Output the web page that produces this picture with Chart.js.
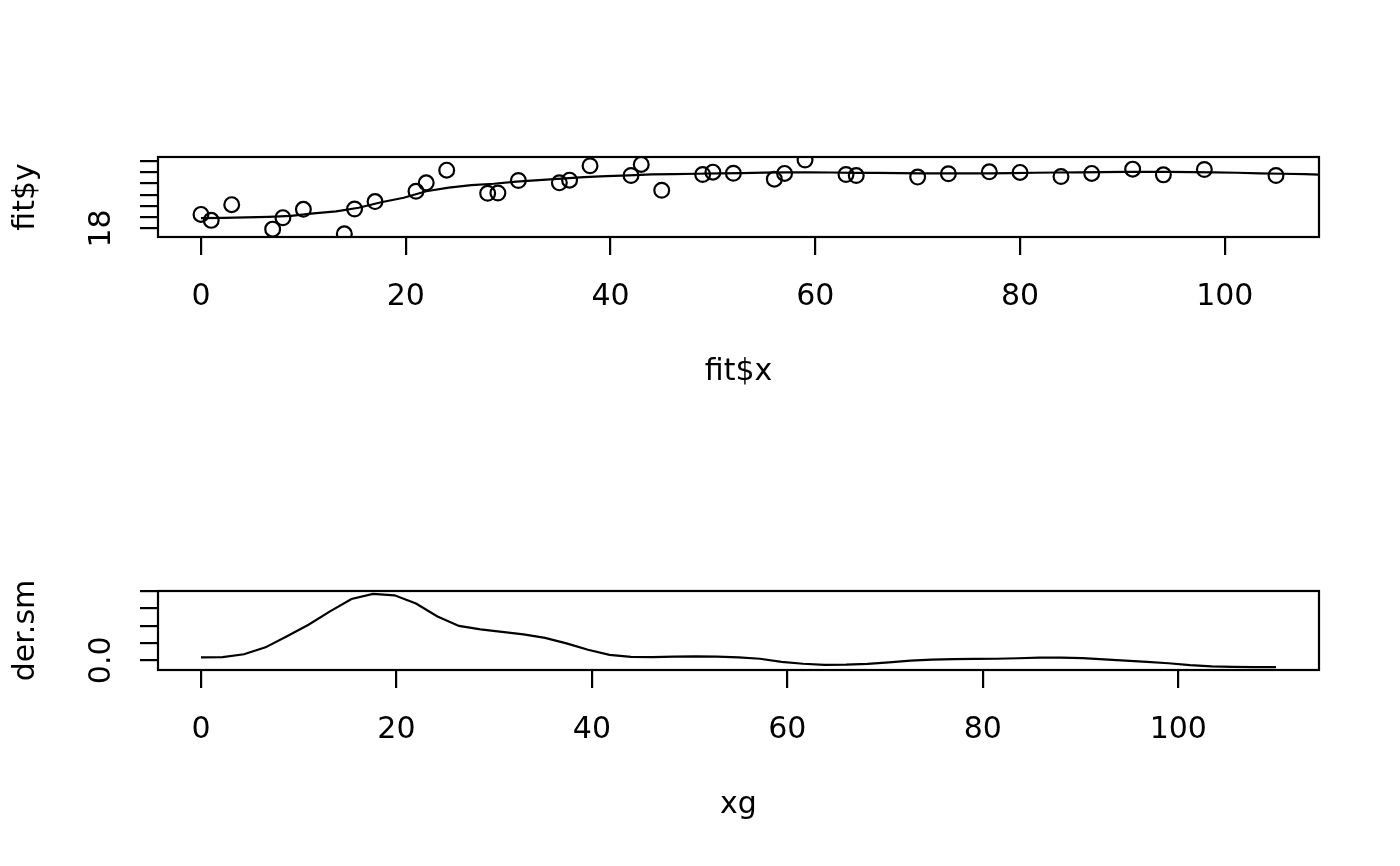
<!DOCTYPE html>
<html>
<head>
<meta charset="utf-8">
<script src="https://cdn.jsdelivr.net/npm/chart.js@4"></script>
<style>
  body { margin: 0; background: #fff; }
  canvas { display: block; }
</style>
</head>
<body>
<canvas id="fitChart" width="1400" height="433"></canvas>
<canvas id="derChart" width="1400" height="433"></canvas>
<script>
// observed points
const fitX = [0, 1, 3, 7, 8, 10, 14, 15, 17, 21, 22, 24, 28, 29, 31, 35, 36, 38, 42, 43, 45,
  49, 50, 52, 56, 57, 59, 63, 64, 70, 73, 77, 80, 84, 87, 91, 94, 98, 105];
const fitY = [19.25, 18.72, 20.12, 17.94, 18.96, 19.70, 17.52, 19.73, 20.39, 21.31, 22.06, 23.19,
  21.13, 21.16, 22.27, 22.06, 22.30, 23.58, 22.72, 23.70, 21.40,
  22.80, 23.01, 22.92, 22.39, 22.90, 24.09, 22.80, 22.72, 22.57, 22.87, 23.04, 22.99, 22.63,
  22.90, 23.28, 22.77, 23.25, 22.72];

// evaluation grid
const xg = [0, 2.2, 4.4, 6.6, 8.8, 11, 13.2, 15.4, 17.6, 19.8, 22, 24.2, 26.4, 28.6, 30.8, 33,
  35.2, 37.4, 39.6, 41.8, 44, 46.2, 48.4, 50.6, 52.8, 55, 57.2, 59.4, 61.6, 63.8, 66, 68.2,
  70.4, 72.6, 74.8, 77, 79.2, 81.4, 83.6, 85.8, 88, 90.2, 92.4, 94.6, 96.8, 99, 101.2, 103.4,
  105.6, 107.8, 110];

// smooth fit on the grid
const fitSm = [18.92, 18.94, 18.98, 19.03, 19.12, 19.34, 19.52, 19.84, 20.33, 20.73, 21.31,
  21.63, 21.85, 21.98, 22.16, 22.30, 22.43, 22.57, 22.66, 22.72, 22.81, 22.83, 22.87, 22.91,
  22.93, 22.97, 22.99, 23.00, 22.98, 22.95, 22.94, 22.92, 22.91, 22.90, 22.90, 22.91, 22.93,
  22.96, 22.98, 23.00, 23.01, 23.03, 23.04, 23.04, 23.02, 23.00, 22.96, 22.91, 22.87, 22.83,
  22.78];

// derivative of the smooth
const derSm = [0.017, 0.019, 0.035, 0.075, 0.139, 0.206, 0.283, 0.355, 0.384, 0.376, 0.329,
  0.254, 0.199, 0.179, 0.165, 0.150, 0.130, 0.098, 0.061, 0.032, 0.020, 0.019, 0.021, 0.023,
  0.021, 0.017, 0.009, -0.009, -0.020, -0.026, -0.025, -0.020, -0.012, -0.002, 0.004, 0.007,
  0.008, 0.009, 0.012, 0.016, 0.016, 0.013, 0.006, -0.002, -0.009, -0.017, -0.028, -0.035,
  -0.038, -0.039, -0.039];

// axis ticks (R drops labels that would overlap)
const fitXTicks = [0, 20, 40, 60, 80, 100];
const fitYTicks = [18, 19, 20, 21, 22, 23, 24];
const fitYLabels = ['18', '', '', '', '', '', ''];
const xgTicks = [0, 20, 40, 60, 80, 100];
const derYTicks = [0, 0.1, 0.2, 0.3, 0.4];
const derYLabels = ['0.0', '', '', '', ''];

Chart.defaults.font.family = 'DejaVu Sans';
Chart.defaults.font.size = 30;
Chart.defaults.color = '#000';

const LW = 2.2;

const boxPlugin = {
  id: 'box',
  afterDraw(chart) {
    const a = chart.chartArea;
    const ctx = chart.ctx;
    ctx.save();
    ctx.strokeStyle = '#000';
    ctx.lineWidth = LW;
    ctx.strokeRect(a.left, a.top, a.right - a.left, a.bottom - a.top);
    ctx.restore();
  }
};

function xAxis(ticks, min, max, title) {
  return {
    type: 'linear', min: min, max: max,
    afterBuildTicks: s => { s.ticks = ticks.map(v => ({ value: v })); },
    afterFit: s => { s.height = 196; },
    grid: { drawOnChartArea: false, drawTicks: true, tickLength: 18, color: '#000', lineWidth: LW },
    border: { display: false },
    ticks: { autoSkip: false, padding: 24, maxRotation: 0 },
    title: { display: true, text: title, padding: { top: 0, bottom: 43 } }
  };
}

function yAxis(ticks, labels, min, max, title, pad) {
  return {
    type: 'linear', min: min, max: max,
    afterBuildTicks: s => { s.ticks = ticks.map(v => ({ value: v })); },
    afterFit: s => { s.width = 158; },
    grid: { drawOnChartArea: false, drawTicks: true, tickLength: 18, color: '#000', lineWidth: LW },
    border: { display: false },
    ticks: {
      autoSkip: false, minRotation: 90, maxRotation: 90, crossAlign: 'center', padding: pad,
      callback: (v, i) => labels[i]
    },
    title: { display: true, text: title, padding: { top: 8, bottom: 0 } }
  };
}

new Chart(document.getElementById('fitChart'), {
  type: 'scatter',
  data: {
    datasets: [{
      data: fitX.map((x, i) => ({ x: x, y: fitY[i] })),
      pointStyle: 'circle', pointRadius: 7.4, borderColor: '#000', borderWidth: LW,
      backgroundColor: 'rgba(0,0,0,0)', clip: 0
    }, {
      data: xg.map((x, i) => ({ x: x, y: fitSm[i] })),
      showLine: true, pointRadius: 0, borderColor: '#000', borderWidth: LW, clip: 0
    }]
  },
  options: {
    responsive: false, animation: false, devicePixelRatio: 1,
    layout: { padding: { top: 157, right: 81, left: 0, bottom: 0 } },
    plugins: { legend: { display: false }, tooltip: { enabled: false } },
    scales: {
      x: xAxis(fitXTicks, -4.2, 109.2, 'fit$x'),
      y: yAxis(fitYTicks, fitYLabels, 17.24, 24.36, 'fit$y', 19)
    }
  },
  plugins: [boxPlugin]
});

new Chart(document.getElementById('derChart'), {
  type: 'scatter',
  data: {
    datasets: [{
      data: xg.map((x, i) => ({ x: x, y: derSm[i] })),
      showLine: true, pointRadius: 0, borderColor: '#000', borderWidth: LW, clip: 0
    }]
  },
  options: {
    responsive: false, animation: false, devicePixelRatio: 1,
    layout: { padding: { top: 158, right: 81, left: 0, bottom: 0 } },
    plugins: { legend: { display: false }, tooltip: { enabled: false } },
    scales: {
      x: xAxis(xgTicks, -4.4, 114.4, 'xg'),
      y: yAxis(derYTicks, derYLabels, -0.056, 0.401, 'der.sm', 14)
    }
  },
  plugins: [boxPlugin]
});
</script>
</body>
</html>
